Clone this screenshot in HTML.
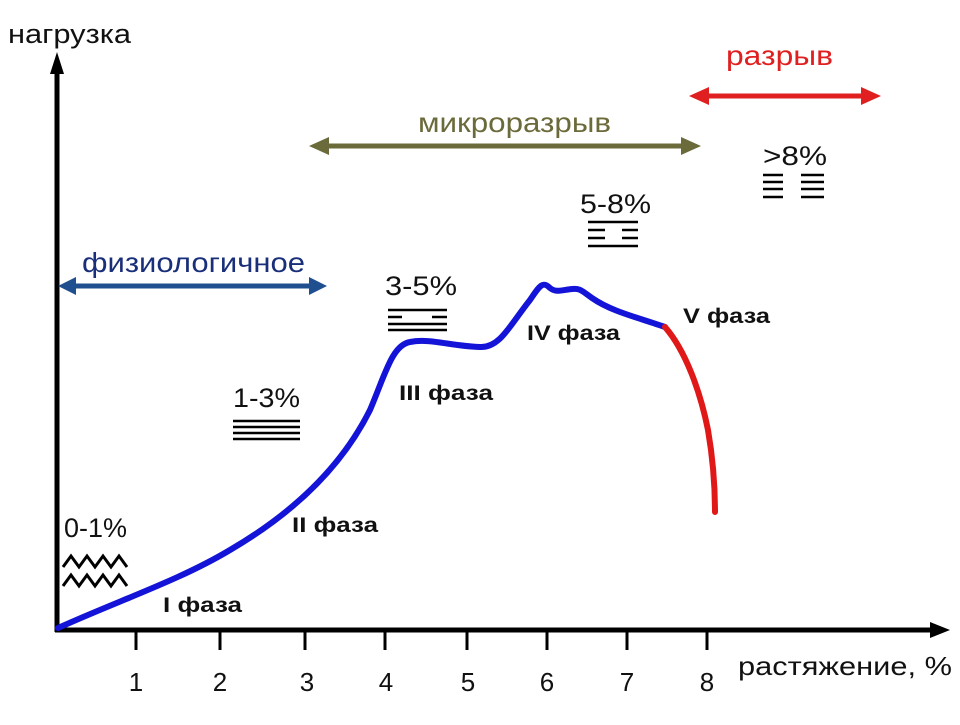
<!DOCTYPE html>
<html><head><meta charset="utf-8"><style>
body{margin:0;background:#fff}
svg text{font-family:"Liberation Sans",sans-serif}
</style></head><body>
<svg width="960" height="720" viewBox="0 0 960 720" xmlns="http://www.w3.org/2000/svg">
<!-- axes -->
<line x1="57" y1="632" x2="57" y2="70" stroke="#000" stroke-width="5"/>
<path d="M50,74 L57,52 L64,74 Z" fill="#000"/>
<line x1="55" y1="630" x2="935" y2="630" stroke="#000" stroke-width="5"/>
<path d="M930,622 L950,630 L930,638 Z" fill="#000"/>
<g stroke="#000" stroke-width="3">
<line x1="136" y1="630" x2="136" y2="650"/><line x1="220" y1="630" x2="220" y2="650"/>
<line x1="305" y1="630" x2="305" y2="650"/><line x1="385" y1="630" x2="385" y2="650"/>
<line x1="467" y1="630" x2="467" y2="650"/><line x1="547" y1="630" x2="547" y2="650"/>
<line x1="627" y1="630" x2="627" y2="650"/><line x1="707" y1="630" x2="707" y2="650"/>
</g>
<g font-size="26" text-anchor="middle" fill="#111">
<text x="136" y="691">1</text><text x="220" y="691">2</text><text x="307" y="691">3</text><text x="386" y="691">4</text>
<text x="468" y="691">5</text><text x="547" y="691">6</text><text x="627" y="691">7</text><text x="707" y="691">8</text>
</g>
<text x="738" y="675" font-size="26" fill="#111" textLength="214" lengthAdjust="spacingAndGlyphs">растяжение, %</text>
<text x="8" y="43" font-size="27" fill="#111" textLength="123" lengthAdjust="spacingAndGlyphs">нагрузка</text>
<!-- arrows -->
<line x1="72" y1="286" x2="312" y2="286" stroke="#1f4f8f" stroke-width="5"/>
<path d="M58,286 L76,277 L76,295 Z M327,286 L309,277 L309,295 Z" fill="#1f4f8f"/>
<text x="82" y="272" font-size="28" fill="#1a2f7a" textLength="223" lengthAdjust="spacingAndGlyphs">физиологичное</text>
<line x1="325" y1="146" x2="685" y2="146" stroke="#6b6a3a" stroke-width="5"/>
<path d="M309,146 L329,137 L329,155 Z M701,146 L681,137 L681,155 Z" fill="#6b6a3a"/>
<text x="418" y="132" font-size="28" fill="#6b6a3a" textLength="193" lengthAdjust="spacingAndGlyphs">микроразрыв</text>
<line x1="705" y1="96" x2="865" y2="96" stroke="#e02020" stroke-width="5"/>
<path d="M689,96 L709,87 L709,105 Z M881,96 L861,87 L861,105 Z" fill="#e02020"/>
<text x="726" y="65" font-size="28" fill="#e02020" textLength="107" lengthAdjust="spacingAndGlyphs">разрыв</text>
<!-- percent labels -->
<g font-size="27" fill="#111">
<text x="64" y="537" textLength="63" lengthAdjust="spacingAndGlyphs">0-1%</text>
<text x="233" y="407" textLength="67" lengthAdjust="spacingAndGlyphs">1-3%</text>
<text x="385" y="295" textLength="72" lengthAdjust="spacingAndGlyphs">3-5%</text>
<text x="580" y="213" textLength="71" lengthAdjust="spacingAndGlyphs">5-8%</text>
<text x="763" y="165" textLength="64" lengthAdjust="spacingAndGlyphs">&gt;8%</text>
</g>
<path d="M63,567 l8,-11 l8,11 l8,-11 l8,11 l8,-11 l8,11 l8,-11 l8,11 M63,586 l8,-11 l8,11 l8,-11 l8,11 l8,-11 l8,11 l8,-11 l8,11" stroke="#000" stroke-width="3" fill="none"/>
<g stroke="#000" stroke-width="2.5">
<line x1="233" y1="421" x2="300" y2="421"/><line x1="233" y1="427" x2="300" y2="427"/><line x1="233" y1="433" x2="300" y2="433"/><line x1="233" y1="439" x2="300" y2="439"/>
<line x1="388" y1="310" x2="447" y2="310"/><line x1="388" y1="317" x2="402" y2="317"/><line x1="432" y1="317" x2="447" y2="317"/><line x1="388" y1="324" x2="447" y2="324"/><line x1="388" y1="330" x2="447" y2="330"/>
<line x1="588" y1="222" x2="638" y2="222"/><line x1="588" y1="230" x2="605" y2="230"/><line x1="622" y1="230" x2="638" y2="230"/><line x1="588" y1="238" x2="605" y2="238"/><line x1="622" y1="238" x2="638" y2="238"/><line x1="588" y1="246" x2="638" y2="246"/>
<line x1="763" y1="175" x2="783" y2="175"/><line x1="763" y1="182" x2="783" y2="182"/><line x1="763" y1="189" x2="783" y2="189"/><line x1="763" y1="197" x2="783" y2="197"/>
<line x1="801" y1="175" x2="824" y2="175"/><line x1="801" y1="182" x2="824" y2="182"/><line x1="801" y1="189" x2="824" y2="189"/><line x1="801" y1="197" x2="824" y2="197"/>
</g>
<!-- curve -->
<path d="M58,628 C120,600 180,580 230,550 C290,515 340,470 370,410 C385,375 392,345 410,342 C430,338 450,346 480,347 C500,348 510,325 530,300 C540,285 543,281 550,288 C556,293 562,290 572,289 C580,288 582,291 592,298 C612,312 640,318 665,327" fill="none" stroke="#1414d8" stroke-width="6" stroke-linejoin="round" stroke-linecap="round"/>
<path d="M665,327 C685,350 700,390 708,430 C714,465 715,490 715,512" fill="none" stroke="#e01818" stroke-width="6" stroke-linecap="round"/>
<!-- phase labels -->
<g font-size="21" font-weight="bold" fill="#111">
<text x="163" y="612" textLength="79" lengthAdjust="spacingAndGlyphs">I фаза</text>
<text x="292" y="532" textLength="86" lengthAdjust="spacingAndGlyphs">II фаза</text>
<text x="399" y="400" textLength="94" lengthAdjust="spacingAndGlyphs">III фаза</text>
<text x="527" y="340" textLength="93" lengthAdjust="spacingAndGlyphs">IV фаза</text>
<text x="683" y="323" textLength="87" lengthAdjust="spacingAndGlyphs">V фаза</text>
</g>
</svg>
</body></html>
